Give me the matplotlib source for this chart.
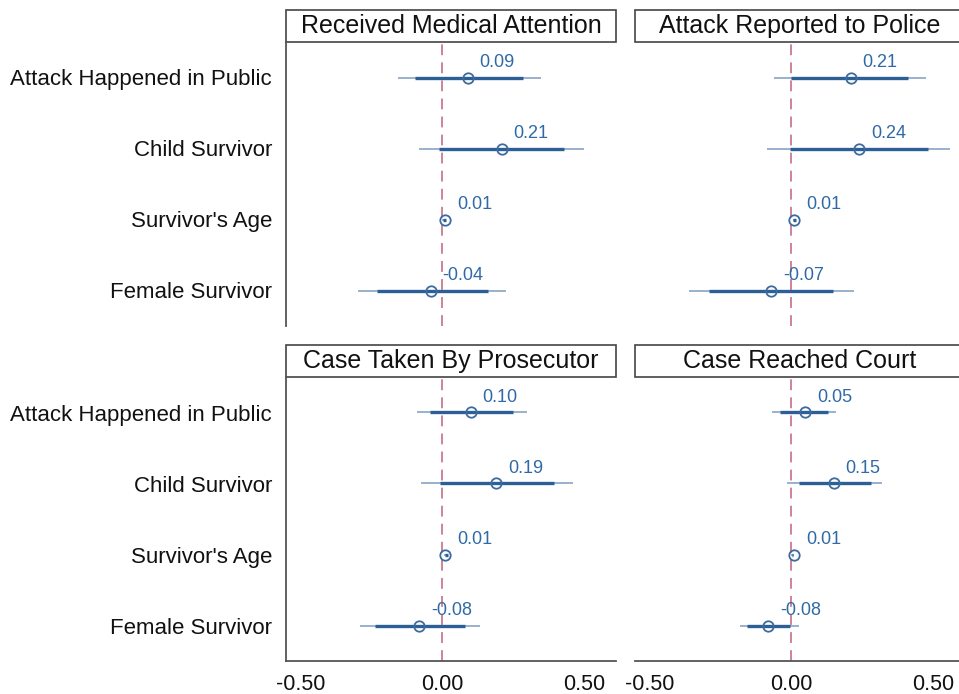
import matplotlib
matplotlib.use('Agg')
import matplotlib.pyplot as plt
from matplotlib.patches import Rectangle

plt.rcParams['font.family'] = ['Liberation Sans', 'DejaVu Sans']

# covariates, top to bottom
variables = ['Attack Happened in Public', 'Child Survivor', "Survivor's Age", 'Female Survivor']
titles = ['Received Medical Attention', 'Attack Reported to Police',
          'Case Taken By Prosecutor', 'Case Reached Court']

# point estimates per outcome (same order as variables)
est_medical = [0.09, 0.21, 0.01, -0.04]
est_police = [0.21, 0.24, 0.01, -0.07]
est_prosecutor = [0.10, 0.19, 0.01, -0.08]
est_court = [0.05, 0.15, 0.01, -0.08]

# 95% intervals (thin lines)
lo95_medical = [-0.157, -0.083, 0.000, -0.295]
hi95_medical = [0.347, 0.498, 0.014, 0.224]
lo95_police = [-0.062, -0.086, 0.005, -0.36]
hi95_police = [0.475, 0.56, 0.018, 0.22]
lo95_prosecutor = [-0.09, -0.073, 0.008, -0.29]
hi95_prosecutor = [0.30, 0.46, 0.022, 0.134]
lo95_court = [-0.068, -0.015, 0.000, -0.18]
hi95_court = [0.158, 0.32, 0.010, 0.028]

# 90% intervals (thick lines)
lo90_medical = [-0.096, -0.013, 0.002, -0.23]
hi90_medical = [0.286, 0.43, 0.012, 0.163]
lo90_police = [0.0, -0.004, 0.007, -0.29]
hi90_police = [0.41, 0.48, 0.016, 0.146]
lo90_prosecutor = [-0.043, -0.008, 0.010, -0.236]
hi90_prosecutor = [0.25, 0.394, 0.020, 0.081]
lo90_court = [-0.041, 0.026, 0.002, -0.157]
hi90_court = [0.13, 0.28, 0.008, -0.003]

panels = [
    (titles[0], est_medical, lo95_medical, hi95_medical, lo90_medical, hi90_medical),
    (titles[1], est_police, lo95_police, hi95_police, lo90_police, hi90_police),
    (titles[2], est_prosecutor, lo95_prosecutor, hi95_prosecutor, lo90_prosecutor, hi90_prosecutor),
    (titles[3], est_court, lo95_court, hi95_court, lo90_court, hi90_court),
]

xticks = [-0.5, 0.0, 0.5]
xtick_labels = ['-0.50', '0.00', '0.50']

thin_col = '#7d9cc0'
thick_col = '#2d5f97'
mark_col = '#3d6b9e'
text_col = '#2f6aa6'
zero_col = '#c87a92'

fig = plt.figure(figsize=(9.59, 6.94), dpi=100)

W, H = 959, 694
lefts = [286, 635]
tops = [42, 377]
aw, ah = 330, 284

ypos = [4, 3, 2, 1]

for i, (title, est, l95, h95, l90, h90) in enumerate(panels):
    row, col = divmod(i, 2)
    x0 = lefts[col]
    y0 = tops[row]
    ax = fig.add_axes([x0 / W, 1 - (y0 + ah) / H, aw / W, ah / H])
    ax.set_xlim(-0.55, 0.612)
    ax.set_ylim(0.5, 4.5)

    ax.axvline(0, color=zero_col, lw=1.3, ls=(0, (6, 4)), zorder=1)
    ax.hlines(ypos, l95, h95, color=thin_col, lw=1.1, zorder=2)
    ax.hlines(ypos, l90, h90, color=thick_col, lw=2.4, zorder=3)
    ax.plot(est, ypos, 'o', ms=7.5, mfc='none', mec=mark_col, mew=1.3, zorder=4)
    for x, y in zip(est, ypos):
        ax.annotate(f'{x:.2f}', (x, y), xytext=(8.5, 4.5), textcoords='offset points',
                    ha='left', va='bottom', color=text_col, fontsize=13)

    for s in ['top', 'right', 'left', 'bottom']:
        ax.spines[s].set_visible(False)
    if col == 0:
        ax.spines['left'].set_visible(True)
        ax.spines['left'].set_color('#555555')
        ax.spines['left'].set_linewidth(1.3)
        ax.set_yticks(ypos)
        ax.set_yticklabels(variables, fontsize=16, color='#111111')
    else:
        ax.set_yticks([])
    if row == 1:
        ax.spines['bottom'].set_visible(True)
        ax.spines['bottom'].set_color('#555555')
        ax.spines['bottom'].set_linewidth(1.3)
        ax.set_xticks(xticks)
        ax.set_xticklabels(xtick_labels, fontsize=15.5, color='#111111')
    else:
        ax.set_xticks([])
    ax.tick_params(length=0, pad=9)
    ax.tick_params(axis='y', pad=10)

    # title strip
    box_h = 32 / ah
    ax.add_patch(Rectangle((0, 1), 1, box_h, transform=ax.transAxes, clip_on=False,
                           facecolor='white', edgecolor='#444444', lw=1.2))
    ax.text(0.5, 1 + box_h / 2, title, transform=ax.transAxes, ha='center', va='center',
            fontsize=18, color='#111111')

fig.savefig('out.png', dpi=100)
